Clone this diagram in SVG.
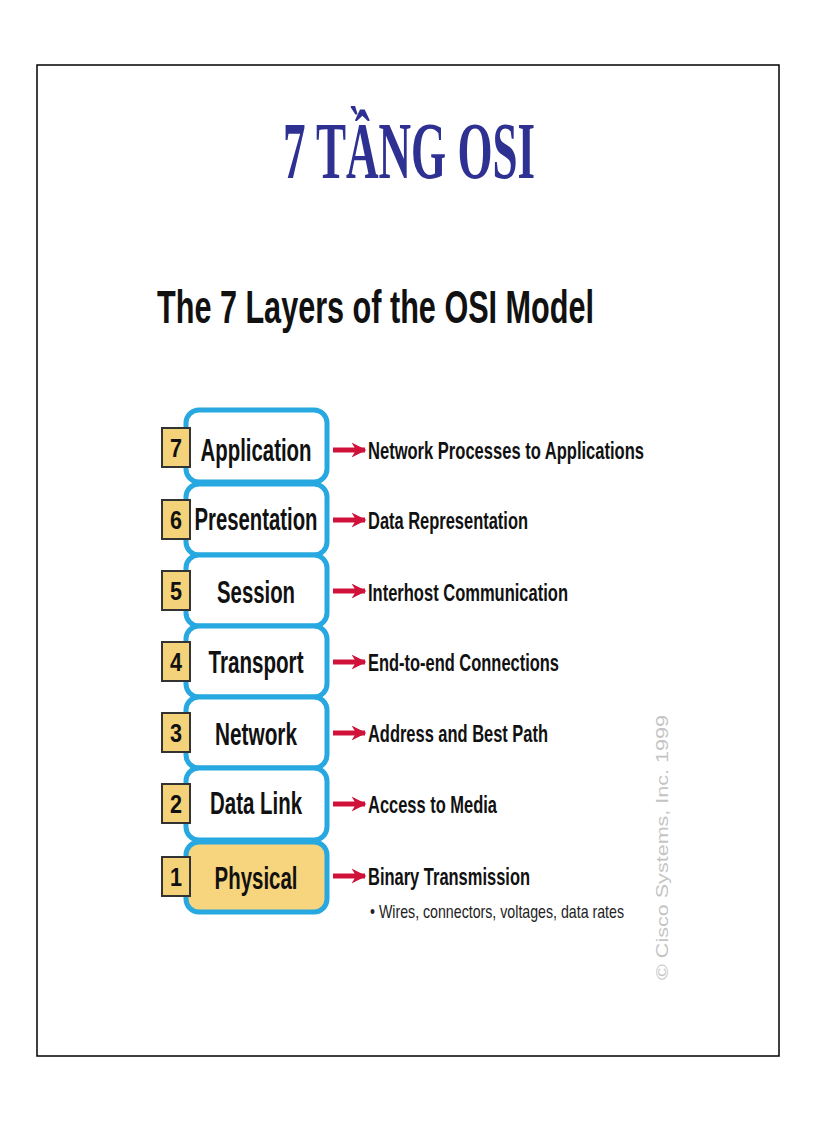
<svg xmlns="http://www.w3.org/2000/svg" width="816" height="1123" viewBox="0 0 816 1123">
<style>
.frame{fill:#fff;stroke:#000;stroke-width:1.5}
.title{font-family:"Liberation Serif",serif;font-weight:bold;font-size:80px;fill:#2e3192}
.sub{font-family:"Liberation Sans",sans-serif;font-weight:bold;font-size:47px;fill:#111}
.box{fill:#fff;stroke:#27a8e0;stroke-width:5}
.phys{fill:#f6d57e}
.num{fill:#f4d27a;stroke:#333;stroke-width:2}
.numt{font-family:"Liberation Sans",sans-serif;font-weight:bold;font-size:26px;fill:#111;text-anchor:middle}
.lbl{font-family:"Liberation Sans",sans-serif;font-weight:bold;font-size:32px;fill:#111;text-anchor:middle}
.desc{font-family:"Liberation Sans",sans-serif;font-weight:bold;font-size:24px;fill:#111}
.small{font-family:"Liberation Sans",sans-serif;font-size:19px;fill:#222}
.arrow{stroke:#d0123b;stroke-width:5;fill:none}
.head{fill:#d0123b}
.copy{font-family:"Liberation Sans",sans-serif;font-size:16px;fill:#c4c4c4}
</style>
<defs>
<marker id="ah" viewBox="0 0 10 10" refX="9" refY="5" markerWidth="3" markerHeight="3.2" orient="auto" markerUnits="strokeWidth">
<path d="M0,0 L10,5 L0,10 L3,5 Z" class="head"/>
</marker>
</defs>
<rect class="frame" x="37" y="65" width="742" height="991"/>
<text class="title" x="283" y="178" textLength="252" lengthAdjust="spacingAndGlyphs">7 TẦNG OSI</text>
<text class="sub" x="157" y="323" textLength="437" lengthAdjust="spacingAndGlyphs">The 7 Layers of the OSI Model</text>

<g id="layer7">
<rect class="box" x="186" y="410" width="141" height="72" rx="13"/>
<rect class="num" x="162" y="428" width="28" height="39"/>
<text class="numt" x="176" y="457" textLength="12" lengthAdjust="spacingAndGlyphs">7</text>
<text class="lbl" x="256" y="461" textLength="111" lengthAdjust="spacingAndGlyphs">Application</text>
</g>
<g id="layer6">
<rect class="box" x="186" y="484" width="141" height="71" rx="13"/>
<rect class="num" x="162" y="500" width="28" height="39"/>
<text class="numt" x="176" y="529" textLength="12" lengthAdjust="spacingAndGlyphs">6</text>
<text class="lbl" x="256" y="530" textLength="123" lengthAdjust="spacingAndGlyphs">Presentation</text>
</g>
<g id="layer5">
<rect class="box" x="186" y="555" width="141" height="71" rx="13"/>
<rect class="num" x="162" y="571" width="28" height="39"/>
<text class="numt" x="176" y="600" textLength="12" lengthAdjust="spacingAndGlyphs">5</text>
<text class="lbl" x="256" y="603" textLength="78" lengthAdjust="spacingAndGlyphs">Session</text>
</g>
<g id="layer4">
<rect class="box" x="186" y="626" width="141" height="71" rx="13"/>
<rect class="num" x="162" y="642" width="28" height="39"/>
<text class="numt" x="176" y="671" textLength="12" lengthAdjust="spacingAndGlyphs">4</text>
<text class="lbl" x="256" y="673" textLength="95" lengthAdjust="spacingAndGlyphs">Transport</text>
</g>
<g id="layer3">
<rect class="box" x="186" y="697" width="141" height="71" rx="13"/>
<rect class="num" x="162" y="713" width="28" height="39"/>
<text class="numt" x="176" y="742" textLength="12" lengthAdjust="spacingAndGlyphs">3</text>
<text class="lbl" x="256" y="745" textLength="82" lengthAdjust="spacingAndGlyphs">Network</text>
</g>
<g id="layer2">
<rect class="box" x="186" y="768" width="141" height="72" rx="13"/>
<rect class="num" x="162" y="784" width="28" height="39"/>
<text class="numt" x="176" y="813" textLength="12" lengthAdjust="spacingAndGlyphs">2</text>
<text class="lbl" x="256" y="814" textLength="92" lengthAdjust="spacingAndGlyphs">Data Link</text>
</g>
<g id="layer1">
<rect class="box phys" x="186" y="842" width="141" height="70" rx="13"/>
<rect class="num" x="162" y="857" width="28" height="39"/>
<text class="numt" x="176" y="886" textLength="12" lengthAdjust="spacingAndGlyphs">1</text>
<text class="lbl" x="256" y="889" textLength="83" lengthAdjust="spacingAndGlyphs">Physical</text>
</g>

<g id="connectors">
<line class="arrow" x1="333" y1="450" x2="365" y2="450" marker-end="url(#ah)"/>
<line class="arrow" x1="333" y1="520" x2="365" y2="520" marker-end="url(#ah)"/>
<line class="arrow" x1="333" y1="591" x2="365" y2="591" marker-end="url(#ah)"/>
<line class="arrow" x1="333" y1="662" x2="365" y2="662" marker-end="url(#ah)"/>
<line class="arrow" x1="333" y1="733" x2="365" y2="733" marker-end="url(#ah)"/>
<line class="arrow" x1="333" y1="804" x2="365" y2="804" marker-end="url(#ah)"/>
<line class="arrow" x1="333" y1="876" x2="365" y2="876" marker-end="url(#ah)"/>
</g>

<g id="descriptions">
<text class="desc" x="368" y="459" textLength="276" lengthAdjust="spacingAndGlyphs">Network Processes to Applications</text>
<text class="desc" x="368" y="529" textLength="160" lengthAdjust="spacingAndGlyphs">Data Representation</text>
<text class="desc" x="368" y="601" textLength="200" lengthAdjust="spacingAndGlyphs">Interhost Communication</text>
<text class="desc" x="368" y="671" textLength="191" lengthAdjust="spacingAndGlyphs">End-to-end Connections</text>
<text class="desc" x="368" y="742" textLength="180" lengthAdjust="spacingAndGlyphs">Address and Best Path</text>
<text class="desc" x="368" y="813" textLength="129" lengthAdjust="spacingAndGlyphs">Access to Media</text>
<text class="desc" x="368" y="885" textLength="162" lengthAdjust="spacingAndGlyphs">Binary Transmission</text>
<text class="small" x="370" y="918" textLength="254" lengthAdjust="spacingAndGlyphs">• Wires, connectors, voltages, data rates</text>
</g>
<text class="copy" x="0" y="0" transform="translate(668,980) rotate(-90)" textLength="265" lengthAdjust="spacingAndGlyphs">© Cisco Systems, Inc. 1999</text>
</svg>
